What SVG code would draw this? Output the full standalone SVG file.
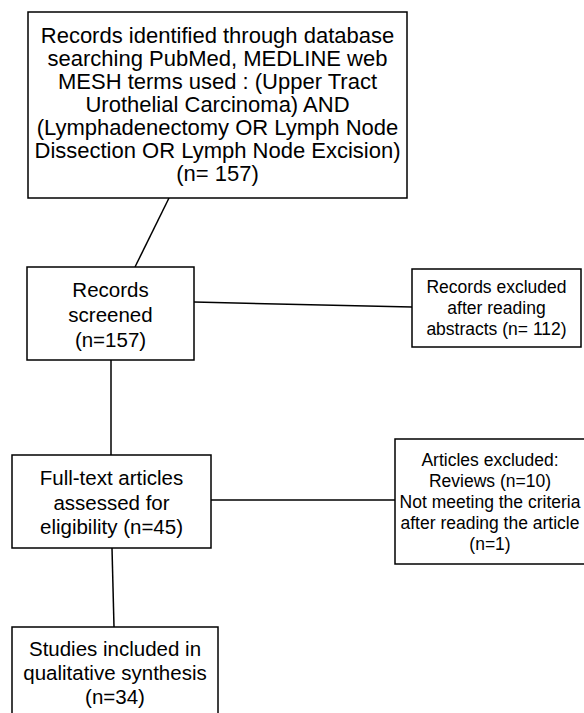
<svg xmlns="http://www.w3.org/2000/svg" width="584" height="713" viewBox="0 0 584 713">
<style>
.box{fill:#fff;stroke:#000;stroke-width:1.5}
.t{font-family:"Liberation Sans",Arial,sans-serif;fill:#000;text-anchor:middle}
.top{font-size:22px}
.big{font-size:20.5px}
.small{font-size:17.5px}
.c{stroke:#000;stroke-width:1.5;fill:none}
</style>
<rect width="584" height="713" fill="#fff"/>
<g id="connectors">
<line class="c" x1="169" y1="198" x2="135" y2="267"/>
<line class="c" x1="111" y1="360" x2="111" y2="455"/>
<line class="c" x1="194" y1="302" x2="412" y2="307"/>
<line class="c" x1="211" y1="500" x2="395" y2="500"/>
<line class="c" x1="112" y1="548" x2="114" y2="627"/>
</g>
<g id="identified">
<rect class="box" x="28" y="12" width="379" height="186"/>
<text class="t top" x="217.5" y="43">Records identified through database</text>
<text class="t top" x="217.5" y="66">searching PubMed, MEDLINE web</text>
<text class="t top" x="217.5" y="89">MESH terms used : (Upper Tract</text>
<text class="t top" x="217.5" y="112">Urothelial Carcinoma) AND</text>
<text class="t top" x="217.5" y="135">(Lymphadenectomy OR Lymph Node</text>
<text class="t top" x="217.5" y="158">Dissection OR Lymph Node Excision)</text>
<text class="t top" x="217.5" y="181">(n= 157)</text>
</g>
<g id="screened">
<rect class="box" x="27" y="267" width="167" height="93"/>
<text class="t big" x="110.5" y="297">Records</text>
<text class="t big" x="110.5" y="322">screened</text>
<text class="t big" x="110.5" y="347">(n=157)</text>
</g>
<g id="excluded-records">
<rect class="box" x="412" y="269" width="169" height="78"/>
<text class="t small" x="496.5" y="293">Records excluded</text>
<text class="t small" x="496.5" y="314">after reading</text>
<text class="t small" x="496.5" y="335">abstracts (n= 112)</text>
</g>
<g id="fulltext">
<rect class="box" x="12" y="455" width="199" height="93"/>
<text class="t big" x="111.5" y="485">Full-text articles</text>
<text class="t big" x="111.5" y="509.5">assessed for</text>
<text class="t big" x="111.5" y="534">eligibility (n=45)</text>
</g>
<g id="excluded-articles">
<rect class="box" x="395" y="439" width="192" height="125"/>
<text class="t small" x="490" y="466">Articles excluded:</text>
<text class="t small" x="490" y="487">Reviews (n=10)</text>
<text class="t small" x="490" y="508">Not meeting the criteria</text>
<text class="t small" x="490" y="529">after reading the article</text>
<text class="t small" x="490" y="550">(n=1)</text>
</g>
<g id="included">
<rect class="box" x="12" y="627" width="206" height="100"/>
<text class="t big" x="115" y="656">Studies included in</text>
<text class="t big" x="115" y="680">qualitative synthesis</text>
<text class="t big" x="115" y="704">(n=34)</text>
</g>
</svg>
